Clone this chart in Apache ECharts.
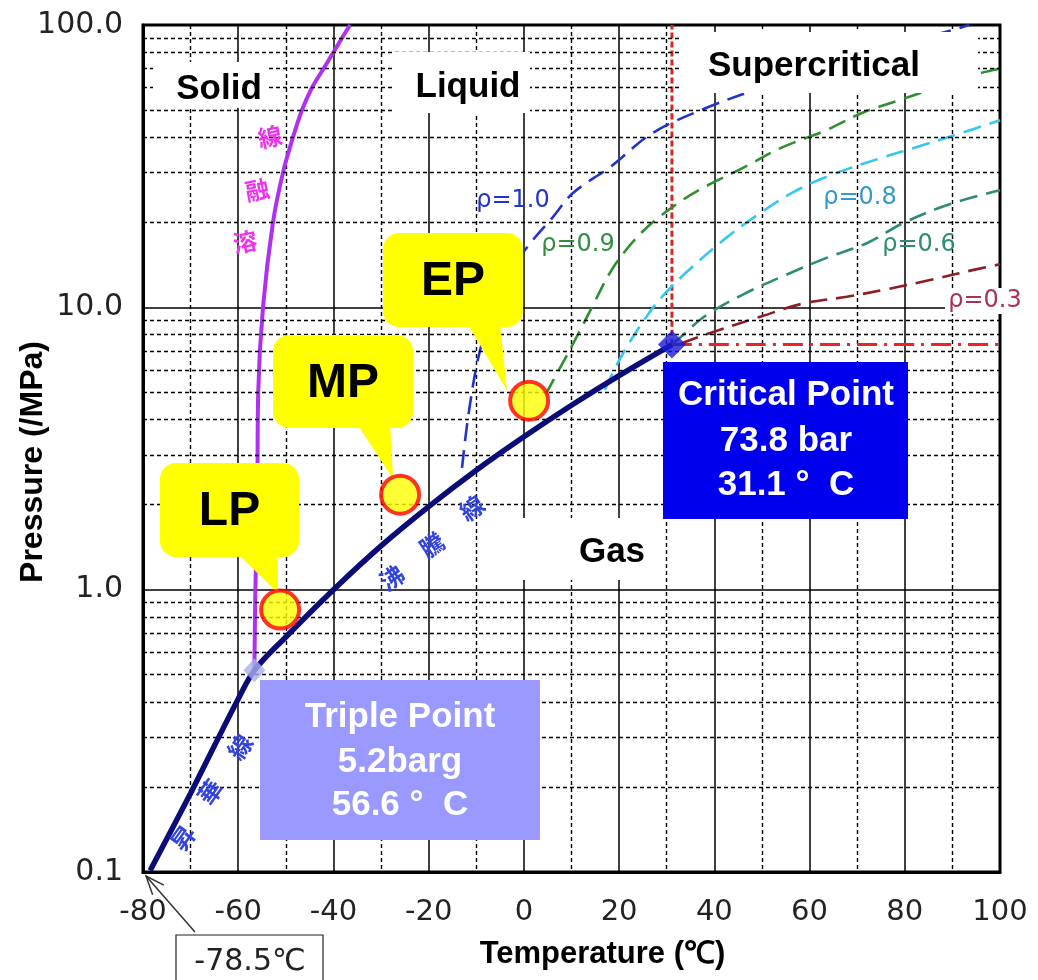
<!DOCTYPE html>
<html><head><meta charset="utf-8">
<script src="https://cdn.jsdelivr.net/npm/echarts@6/dist/echarts.min.js"></script>
<style>html,body{margin:0;padding:0;background:#fff}#c{width:1038px;height:980px}</style>
</head><body><div id="c"></div>
<script>
// ---------- data ----------
const xMin = -80, xMax = 100, xInterval = 20;
const yTickValues = [0.1, 1, 10, 100];
const yTickLabels = ['0.1', '1.0', '10.0', '100.0'];
const yMinorValues = [0.2,0.3,0.4,0.5,0.6,0.7,0.8,0.9,2,3,4,5,6,7,8,9,20,30,40,50,60,70,80,90];

// sublimation + boiling (vapour pressure) line
const vaporLine = [[-78.5,0.1013],[-70,0.19],[-65,0.28],[-60,0.41],[-56.6,0.518],[-50,0.68],[-40,1.0],[-30,1.43],[-20,1.97],[-10,2.65],[0,3.48],[10,4.5],[20,5.73],[31.1,7.38]];
// melting line
const meltingLine = [[-56.6,0.518],[-56.4,1.0],[-56.0,2.0],[-55.8,5.0],[-54.8,10],[-52.7,20],[-50.6,30],[-48.5,40],[-46.6,50],[-44.5,60],[-42.1,70],[-40,80],[-38.2,90],[-36.5,100]];
// density isochores
const rho10 = [[-13,2.7],[-11.7,4.1],[-9.6,6.6],[-7,9.3],[-3,13.3],[1.5,17],[6,20.8],[10.3,25.4],[18.1,31.4],[27.1,41.5],[38.5,51],[50,60],[65,72],[80,86],[90,96],[93.5,100]];
const rho09 = [[4.5,4.9],[9.7,7.1],[14.3,10],[18,13.2],[21.5,16],[25,18.6],[28,20.6],[33,23.8],[38,26.7],[46,31.2],[54,36.7],[63.6,42.5],[71,48.8],[79,54.3],[88,61],[96,67.6],[100,70]];
const rho08 = [[17,5.1],[19.8,6.4],[23,7.9],[26,9.4],[29,10.9],[33.9,13.2],[41.9,17.3],[49,21.2],[56.6,25.6],[64.7,29.5],[75.5,34],[82.2,36.8],[92,41.5],[100,46]];
const rho06 = [[31.1,7.38],[33.5,8.0],[38,9.3],[46,11.1],[54.9,13],[63.7,15],[72.1,16.9],[79.7,19.9],[89.1,23.1],[100,26]];
const rho03 = [[33,7.45],[38.5,8.05],[50,9.3],[58.5,10.3],[67.8,10.9],[76.3,11.6],[85.3,12.5],[94.7,13.6],[100,14.2]];
// critical isotherm / isobar
const critVertical = [[31.1,7.38],[31.1,100]];
const critHorizontal = [[31.1,7.38],[100,7.38]];
// special points
const criticalPoint = [31.1, 7.38];
const triplePoint = [-56.6, 0.518];
const processNames = ['LP', 'MP', 'EP'];
const processValues = [[-51.2,0.85],[-26,2.17],[1.1,4.67]];
const rhoLabels = ['ρ=1.0','ρ=0.9','ρ=0.8','ρ=0.6','ρ=0.3'];

// ---------- chart ----------
const chart = echarts.init(document.getElementById('c'));
const SANS = '"Liberation Sans", Arial, sans-serif';
const TICKF = '"DejaVu Sans", sans-serif';
const CJK = '"Noto Sans CJK JP", sans-serif';

function curve(data, color, width, type, z) {
  return {type:'line', data, smooth:0.35, symbol:'none', showSymbol:false, silent:true,
          lineStyle:{color, width, type}, z: z || 3, animation:false};
}

chart.setOption({
  animation:false,
  backgroundColor:'#fff',
  grid:{left:143, right:38, top:25, bottom:108, containLabel:false, outerBoundsMode:'none',
        show:true, borderColor:'#000', borderWidth:3},
  xAxis:{type:'value', min:xMin, max:xMax, interval:xInterval,
    axisLine:{show:true, onZero:false, lineStyle:{color:'#000', width:3}},
    axisTick:{show:false},
    axisLabel:{fontFamily:TICKF, fontSize:29, color:'#222', margin:26},
    splitLine:{show:true, lineStyle:{color:'#000', width:1.5}},
    minorTick:{show:false, splitNumber:2},
    minorSplitLine:{show:true, lineStyle:{color:'#000', width:1.4, type:[4,3]}},
    name:'Temperature (℃)', nameLocation:'middle', nameGap:67, nameMoveOverlap:false,
    nameTextStyle:{fontFamily:SANS, fontWeight:'bold', fontSize:31, color:'#000', padding:[0,0,0,62]}},
  yAxis:{type:'log', logBase:10, min:0.1, max:100,
    axisLine:{show:true, onZero:false, lineStyle:{color:'#000', width:3}},
    axisTick:{show:false},
    axisLabel:{fontFamily:TICKF, fontSize:30, color:'#222', margin:20,
      formatter:v => yTickLabels[Math.round(Math.log10(v)) + 1]},
    splitLine:{show:true, lineStyle:{color:'#000', width:1.5}},
    name:'Pressure (/MPa)', nameLocation:'middle', nameGap:94, nameRotate:90, nameMoveOverlap:false,
    nameTextStyle:{fontFamily:SANS, fontWeight:'bold', fontSize:32, color:'#000', padding:[0,27,0,0]}},
  series:[
    {type:'line', data:[[xMin,0.1]], symbol:'none', silent:true, z:1,
     markLine:{silent:true, symbol:['none','none'], label:{show:false}, animation:false,
       lineStyle:{color:'#000', type:[4,3], width:1.4},
       data: yMinorValues.map(v => ({yAxis:v}))}},
    curve(critVertical, '#dd2222', 3, [6,3], 3),
    curve(critHorizontal, '#ee2222', 3, [20,7,3,7], 3),
    curve(rho10, '#2233cc', 2.6, [18,9]),
    curve(rho09, '#2f8f2f', 2.6, [18,9]),
    curve(rho08, '#33c8ee', 2.6, [18,9]),
    curve(rho06, '#2f8a78', 2.6, [18,9]),
    curve(rho03, '#8e1c24', 2.6, [18,9]),
    curve(meltingLine, '#b030f0', 4, 'solid', 4),
    curve(vaporLine, '#0c0c78', 5.5, 'solid', 5),
    {type:'scatter', data:[triplePoint], symbol:'diamond', symbolSize:[22,24], silent:true,
     itemStyle:{color:'#a8b0ee'}, z:55},
    {type:'scatter', data:[criticalPoint], symbol:'diamond', symbolSize:[28,28], silent:true,
     itemStyle:{color:'#1a1ad8'}, z:55},
    {type:'scatter', data:processValues, symbol:'circle', symbolSize:38, silent:true,
     itemStyle:{color:'#ffff00', borderColor:'#ff0000', borderWidth:4}, z:60}
  ]
});

// ---------- annotations (layout) ----------
const px = v => chart.convertToPixel({gridIndex:0}, v);
const els = [];
function box(x, y, w, h, fill, r, z) {
  els.push({type:'rect', z: z || 40, silent:true, shape:{x, y, width:w, height:h, r: r || 0}, style:{fill}});
}
function txt(text, x, y, font, fill, z, rot) {
  els.push({type:'text', z: z || 41, silent:true, x, y, rotation: rot || 0,
    style:{text, font, fill, textAlign:'center', textVerticalAlign:'middle'}});
}
// region labels with white backgrounds
box(153, 62, 114, 46, '#fff'); txt('Solid', 219, 89, 'bold 35px ' + SANS, '#000');
box(393, 52, 137, 61, '#fff'); txt('Liquid', 468, 87, 'bold 35px ' + SANS, '#000');
box(680, 32, 298, 61, '#fff'); txt('Supercritical', 814, 66, 'bold 35px ' + SANS, '#000');
box(523, 518, 142, 62, '#fff'); txt('Gas', 612, 552, 'bold 35px ' + SANS, '#000');

// callouts
const callouts = [
  {box:[160,463,139,94], base:[237,277], tipOff:[-2,-16]},
  {box:[273,335,140,93], base:[357,390], tipOff:[-7,-16]},
  {box:[383,233,140,94], base:[467,500], tipOff:[-22,-10]}
];
processValues.forEach((v, i) => {
  const c = callouts[i], p = px(v);
  const [bx, by, bw, bh] = c.box;
  els.push({type:'polygon', z:45, silent:true,
    shape:{points:[[c.base[0], by+bh-4],[c.base[1], by+bh-4],[p[0]+c.tipOff[0], p[1]+c.tipOff[1]]]},
    style:{fill:'#ffff00'}});
  box(bx, by, bw, bh, '#ffff00', 16, 45);
  txt(processNames[i], bx + bw/2, by + bh/2 + 2, 'bold 48px ' + SANS, '#000', 46);
});

// critical / triple point boxes
box(663, 362, 245, 157, '#0000ee', 0, 50);
txt('Critical Point', 786, 395, 'bold 35px ' + SANS, '#fff', 51);
txt('73.8 bar', 786, 441, 'bold 35px ' + SANS, '#fff', 51);
txt('31.1 °  C', 786, 485, 'bold 35px ' + SANS, '#fff', 51);
box(260, 680, 280, 160, '#9999ff', 0, 50);
txt('Triple Point', 400, 717, 'bold 35px ' + SANS, '#fff', 51);
txt('5.2barg', 400, 762, 'bold 35px ' + SANS, '#fff', 51);
txt('56.6 °  C', 400, 805, 'bold 35px ' + SANS, '#fff', 51);

// density labels
const rhoPos = [[513,201,'#2233cc'],[578,245,'#2f8f3f'],[860,198,'#3399cc'],[919,245,'#2f8a78'],[985,301,'#aa3355']];
box(945, 288, 82, 26, '#fff', 0, 42);
rhoLabels.forEach((t, i) => txt(t, rhoPos[i][0], rhoPos[i][1], '24px ' + TICKF, rhoPos[i][2], 43));

// Japanese line names
const melt = [['溶',245,242],['融',257,190],['線',270,137]];
melt.forEach(m => txt(m[0], m[1], m[2], 'bold 24px ' + CJK, '#ee33ee', 43, 0.2));
const boil = [['沸',392,578],['騰',432,545],['線',472,508]];
boil.forEach(m => txt(m[0], m[1], m[2], 'bold 24px ' + CJK, '#3344dd', 43, 0.6));
const subl = [['昇',183,838],['華',210,792],['線',240,747]];
subl.forEach(m => txt(m[0], m[1], m[2], 'bold 24px ' + CJK, '#3344dd', 43, 0.95));

// -78.5 ℃ note with arrow
const origin = px([xMin, 0.1]);
els.push({type:'rect', z:40, silent:true, shape:{x:176, y:935, width:147, height:60},
  style:{fill:'#fff', stroke:'#222', lineWidth:1.2}});
txt('-78.5℃', 250, 962, '30px ' + TICKF, '#222', 41);
const tail = [195, 932], tip = [origin[0] + 3, origin[1] + 4];
els.push({type:'line', z:41, silent:true, shape:{x1:tail[0], y1:tail[1], x2:tip[0], y2:tip[1]},
  style:{stroke:'#333', lineWidth:1.5}});
(function(){
  const dx = tip[0]-tail[0], dy = tip[1]-tail[1], L = Math.hypot(dx,dy);
  const ux = dx/L, uy = dy/L, hl = 20, a = 0.38;
  const p1 = [tip[0] - hl*(ux*Math.cos(a) - uy*Math.sin(a)), tip[1] - hl*(uy*Math.cos(a) + ux*Math.sin(a))];
  const p2 = [tip[0] - hl*(ux*Math.cos(-a) - uy*Math.sin(-a)), tip[1] - hl*(uy*Math.cos(-a) + ux*Math.sin(-a))];
  els.push({type:'polyline', z:41, silent:true, shape:{points:[p1, tip, p2]}, style:{stroke:'#333', lineWidth:1.5, fill:null}});
})();

chart.setOption({graphic:{elements:els}});
</script>
</body></html>
